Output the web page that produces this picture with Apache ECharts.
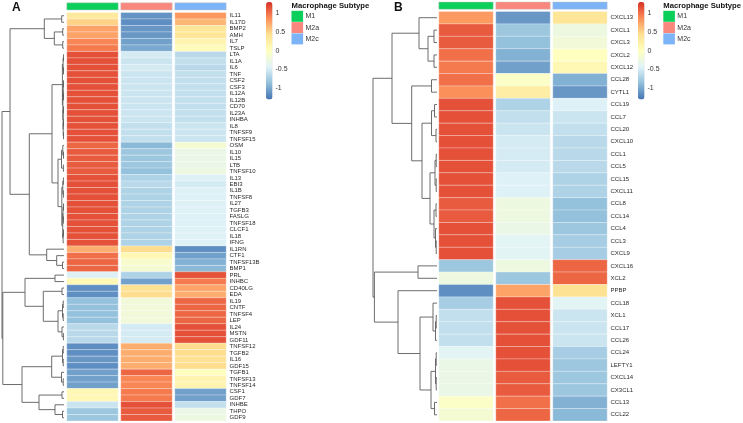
<!DOCTYPE html>
<html><head><meta charset="utf-8">
<script src="https://cdn.jsdelivr.net/npm/echarts@6/dist/echarts.min.js"></script>
<style>html,body{margin:0;padding:0;background:#fff}#c{width:743px;height:423px}</style>
</head><body><div id="c"></div>
<script>
// ---------- data ----------
const subtypes = ['M1', 'M2a', 'M2c'];
const subtypeColors = ['#0BCF5B', '#F8877E', '#7DB3F7'];
const palette = ['#4575B4', '#91BFDB', '#E0F3F8', '#FFFFBF', '#FEE090', '#FC8D59', '#D73027'];
const colorTicks = [-1, -0.5, 0, 0.5, 1];

const genesA = ['IL11','IL17D','BMP2','AMH','IL7','TSLP','LTA','IL1A','IL6','TNF','CSF2','CSF3','IL12A','IL12B','CD70','IL23A','INHBA','IL8','TNFSF9','TNFSF15','OSM','IL10','IL15','LTB','TNFSF10','IL13','EBI3','IL1B','TNFSF8','IL27','TGFB3','FASLG','TNFSF18','CLCF1','IL18','IFNG','IL1RN','CTF1','TNFSF13B','BMP1','PRL','INHBC','CD40LG','EDA','IL19','CNTF','TNFSF4','LEP','IL24','MSTN','GDF11','TNFSF12','TGFB2','IL16','GDF15','TGFB1','TNFSF13','TNFSF14','CSF1','GDF7','INHBE','THPO','GDF9'];
const m1A = [0.31,0.5,0.75,0.75,0.9,0.95,
  1.15,1.15,1.15,1.15,1.15,1.15,1.15,1.15,1.15,1.15,1.15,1.15,1.15,1.15,
  1.05,1.1,1.1,1.1,1.1,
  1.15,1.15,1.15,1.15,1.15,1.15,1.15,1.15,1.15,1.15,1.15,
  0.7,1.0,1.05,1.05,
  -0.45,0.1,-1.15,-1.15,-0.85,-0.85,-0.85,-0.85,-0.65,-0.65,-0.65,
  -1.15,-1.15,-1.1,-1.15,
  -1.05,-1.05,-1.05,
  0.1,0.1,-0.55,-0.8,-0.8];
const m2aA = [-1.12,-1.15,-1.1,-1.1,-1.05,-1.0,
  -0.5,-0.55,-0.5,-0.55,-0.55,-0.55,-0.55,-0.55,-0.55,-0.55,-0.55,-0.6,-0.6,-0.6,
  -0.9,-0.8,-0.8,-0.8,-0.85,
  -0.7,-0.65,-0.7,-0.7,-0.7,-0.7,-0.7,-0.7,-0.7,-0.7,-0.7,
  0.45,0.1,-0.1,-0.15,
  -0.7,-1.05,0.4,0.45,-0.2,-0.2,-0.2,-0.2,-0.5,-0.5,-0.5,
  0.7,0.7,0.7,0.7,
  1.05,0.9,0.9,
  0.95,0.95,1.15,1.1,1.1];
const m2cA = [0.81,0.65,0.35,0.35,0.15,0.05,
  -0.65,-0.6,-0.65,-0.6,-0.6,-0.6,-0.6,-0.6,-0.6,-0.6,-0.6,-0.55,-0.55,-0.55,
  -0.15,-0.3,-0.3,-0.3,-0.25,
  -0.45,-0.5,-0.45,-0.45,-0.45,-0.45,-0.45,-0.45,-0.45,-0.45,-0.45,
  -1.15,-1.05,-0.95,-0.9,
  1.15,0.95,0.75,0.7,1.05,1.05,1.05,1.05,1.15,1.15,1.15,
  0.45,0.45,0.4,0.45,
  0.0,0.15,0.15,
  -1.05,-1.05,-0.6,-0.3,-0.25];

const genesB = ['CXCL13','CXCL1','CXCL3','CXCL2','CXCL12','CCL28','CYTL1','CCL19','CCL7','CCL20','CXCL10','CCL1','CCL5','CCL15','CXCL11','CCL8','CCL14','CCL4','CCL3','CXCL9','CXCL16','XCL2','PPBP','CCL18','XCL1','CCL17','CCL26','CCL24','LEFTY1','CXCL14','CX3CL1','CCL13','CCL22'];
const m1B = [0.8,1.1,1.1,1.0,0.95,1.0,0.85,
  1.15,1.15,1.15,1.15,1.15,1.15,1.15,1.15,
  1.1,1.1,1.15,1.15,1.15,
  -0.8,-0.25,-1.15,-0.75,-0.6,-0.6,-0.6,-0.4,-0.3,-0.3,-0.3,-0.05,-0.15];
const m2aB = [-1.1,-0.8,-0.85,-0.95,-1.05,-0.05,0.25,
  -0.7,-0.6,-0.55,-0.5,-0.5,-0.5,-0.45,-0.45,
  -0.25,-0.25,-0.3,-0.4,-0.4,
  -0.25,-0.8,0.75,1.15,1.15,1.15,1.15,1.15,1.15,1.1,1.1,1.0,1.05];
const m2cB = [0.35,-0.25,-0.2,0.0,0.1,-0.95,-1.1,
  -0.45,-0.55,-0.6,-0.65,-0.65,-0.65,-0.7,-0.7,
  -0.85,-0.85,-0.8,-0.75,-0.75,
  1.05,1.05,0.4,-0.4,-0.55,-0.55,-0.55,-0.75,-0.8,-0.8,-0.8,-0.95,-0.9];

// dendrograms: [left, right, mergeHeight]; leaves are row indices
const treeA = [
  [
    [[0,1,2.3],[[2,3,1.3],[4,5,1.3],9.7],19.7],
    [
      [
        [[[6,7,0.5],[8,9,0.5],0.9],[[[10,11,0.5],[12,13,0.5],0.8],[[14,15,0.5],[[16,17,0.5],[18,19,0.5],0.8],0.9],1.1],1.6],
        [[[20,[21,22,0.5],1.2],[23,24,0.6],2.5],[[[25,26,0.6],[27,28,0.6],1.2],[[[29,30,0.5],[31,32,0.6],1.0],[[33,34,0.5],35,0.9],1.3],2.2],6],
        12
      ],
      [36,[37,[38,39,1.5],7.3],17.3],
      34.7
    ],
    54
  ],
  [
    [[40,41,9],[[42,43,2],[[[44,45,0.8],[46,47,0.8],1.5],[48,[49,50,0.6],2],6],20.7],39],
    [[[[51,52,0.8],[53,54,0.8],1.5],[55,[56,57,0.8],2.5],12.3],[[58,59,2],[60,[61,62,1.5],9],25],42],
    61.2
  ],
  62
];
const treeB = [
  [
    [0,[[1,2,3],[3,4,3],9],18],
    [[5,6,5.5],[[[7,8,2.5],[9,10,1],5.5],[[[11,12,0.8],[13,14,0.8],2],[[15,16,1],[17,[18,19,0.8],1.5],3],7],15],25.3],
    45
  ],
  [
    [20,21,19],
    [22,[[23,[[24,25,0.8],26,1.5],4],[[[27,28,0.8],[29,30,0.8],1.5],[31,32,2.5],6],17],39],
    62.6
  ],
  64
];

// ---------- helpers ----------
function cells(m1, m2a, m2c) {
  const out = [];
  [m1, m2a, m2c].forEach((col, j) => col.forEach((v, i) => out.push([j, i, v])));
  return out;
}
function dendroSegments(tree) {
  const segs = [];
  (function walk(n) {
    if (typeof n === 'number') return { y: n + 0.5, h: 0 };
    const l = walk(n[0]), r = walk(n[1]);
    segs.push([l.h, l.y, n[2], r.y, r.h]);
    return { y: (l.y + r.y) / 2, h: n[2] };
  })(tree);
  return segs;
}
function treeHeight(t) { return t[2]; }

const FONT = 'Liberation Sans, Arial, Helvetica, sans-serif';

function cellRender(params, api) {
  const p = api.coord([api.value(0), api.value(1)]);
  const s = api.size([1, 1]);
  return {
    type: 'rect',
    shape: { x: p[0] - s[0] / 2 + 1.3, y: p[1] - s[1] / 2, width: s[0] - 2.6, height: s[1] },
    style: { fill: api.visual('color'), stroke: 'rgba(255,255,255,0.45)', lineWidth: 0.6 }
  };
}
function annoRender(params, api) {
  const p = api.coord([api.value(0), 0]);
  const s = api.size([1, 1]);
  return {
    type: 'rect',
    shape: { x: p[0] - s[0] / 2 + 1.3, y: p[1] - s[1] / 2, width: s[0] - 2.6, height: s[1] },
    style: { fill: subtypeColors[api.value(0)], stroke: 'rgba(200,200,200,0.8)', lineWidth: 0.6 }
  };
}
function dendroRender(params, api) {
  const pts = [
    api.coord([api.value(0), api.value(1)]),
    api.coord([api.value(2), api.value(1)]),
    api.coord([api.value(2), api.value(3)]),
    api.coord([api.value(4), api.value(3)])
  ];
  return { type: 'polyline', shape: { points: pts }, style: { stroke: '#5c5c5c', lineWidth: 0.9, fill: null } };
}

// ---------- layout ----------
const panels = [
  { genes: genesA, data: cells(m1A, m2aA, m2cA), tree: treeA,
    heat: { left: 65.5, top: 12.5, width: 162, height: 408.5 },
    anno: { left: 65.5, top: 2.8, width: 162, height: 7.2 },
    dendro: { left: 2, top: 12.5, width: 62, height: 408.5 },
    bar: { left: 266, top: 1.9, width: 6.5, height: 97.5 },
    legendX: 291.5, letter: 'A', letterX: 12 },
  { genes: genesB, data: cells(m1B, m2aB, m2cB), tree: treeB,
    heat: { left: 437.5, top: 11.5, width: 171, height: 409.5 },
    anno: { left: 437.5, top: 2, width: 171, height: 7.3 },
    dendro: { left: 373, top: 11.5, width: 64, height: 409.5 },
    bar: { left: 638, top: 1.9, width: 6.5, height: 97.5 },
    legendX: 663.3, letter: 'B', letterX: 394 }
];

const grid = [], xAxis = [], yAxis = [], series = [], visualMap = [], graphic = [];
panels.forEach((P, k) => {
  const base = grid.length;
  // heatmap grid
  grid.push(Object.assign({ containLabel: false, outerBoundsMode: 'none' }, P.heat));
  xAxis.push({ type: 'category', data: subtypes, gridIndex: base, show: false });
  yAxis.push({ type: 'category', data: P.genes, gridIndex: base, inverse: true, position: 'right',
    axisLine: { show: false }, axisTick: { show: false }, splitLine: { show: false },
    axisLabel: { interval: 0, fontSize: 6, margin: 2, color: '#2a2a2a', fontFamily: FONT } });
  const heatIdx = series.length;
  series.push({ type: 'custom', xAxisIndex: base, yAxisIndex: base, renderItem: cellRender,
    data: P.data, encode: { x: 0, y: 1 }, silent: true });
  // annotation grid
  grid.push(Object.assign({ containLabel: false, outerBoundsMode: 'none' }, P.anno));
  xAxis.push({ type: 'category', data: subtypes, gridIndex: base + 1, show: false });
  yAxis.push({ type: 'category', data: ['Subtype'], gridIndex: base + 1, show: false });
  series.push({ type: 'custom', xAxisIndex: base + 1, yAxisIndex: base + 1, renderItem: annoRender,
    data: subtypes.map((s, j) => [j, 0]), encode: { x: 0, y: 1 }, silent: true });
  // dendrogram grid
  grid.push(Object.assign({ containLabel: false, outerBoundsMode: 'none' }, P.dendro));
  xAxis.push({ type: 'value', gridIndex: base + 2, min: 0, max: treeHeight(P.tree), inverse: true, show: false });
  yAxis.push({ type: 'value', gridIndex: base + 2, min: 0, max: P.genes.length, inverse: true, show: false });
  series.push({ type: 'custom', xAxisIndex: base + 2, yAxisIndex: base + 2, renderItem: dendroRender,
    data: dendroSegments(P.tree), encode: { x: [0, 2, 4], y: [1, 3] }, silent: true });
  // colour bar label axis
  grid.push(Object.assign({ containLabel: false, outerBoundsMode: 'none' }, P.bar));
  xAxis.push({ type: 'value', gridIndex: base + 3, show: false, min: 0, max: 1 });
  yAxis.push({ type: 'value', gridIndex: base + 3, min: -1.3, max: 1.3, position: 'right',
    axisLine: { show: false }, axisTick: { show: false }, splitLine: { show: false },
    axisLabel: { customValues: colorTicks, fontSize: 7, margin: 3, color: '#333', fontFamily: FONT } });
  series.push({ type: 'line', xAxisIndex: base + 3, yAxisIndex: base + 3, data: [], silent: true });
  visualMap.push({ type: 'continuous', seriesIndex: heatIdx, dimension: 2, min: -1.3, max: 1.3,
    inRange: { color: palette }, calculable: false, orient: 'vertical', padding: 0,
    left: P.bar.left, top: P.bar.top, itemWidth: P.bar.width, itemHeight: P.bar.height,
    text: null, hoverLink: false });
  // legend + panel letter
  graphic.push({ type: 'text', left: P.letterX, top: 2,
    style: { text: P.letter, font: 'bold 12px ' + FONT, fill: '#111' } });
  graphic.push({ type: 'text', x: P.legendX, y: 6, style: { text: 'Macrophage Subtype',
    font: 'bold 7.7px ' + FONT, fill: '#111', verticalAlign: 'middle' } });
  subtypes.forEach((s, j) => {
    graphic.push({ type: 'rect', shape: { x: P.legendX, y: 10.8 + j * 11.3, width: 11.6, height: 11 },
      style: { fill: subtypeColors[j] } });
    graphic.push({ type: 'text', x: P.legendX + 14, y: 16.3 + j * 11.3,
      style: { text: s, font: '7px ' + FONT, fill: '#333', verticalAlign: 'middle' } });
  });
});

const chart = echarts.init(document.getElementById('c'), null, { renderer: 'canvas' });
chart.setOption({ animation: false, backgroundColor: '#fff', grid, xAxis, yAxis, series, visualMap, graphic });
</script></body></html>
